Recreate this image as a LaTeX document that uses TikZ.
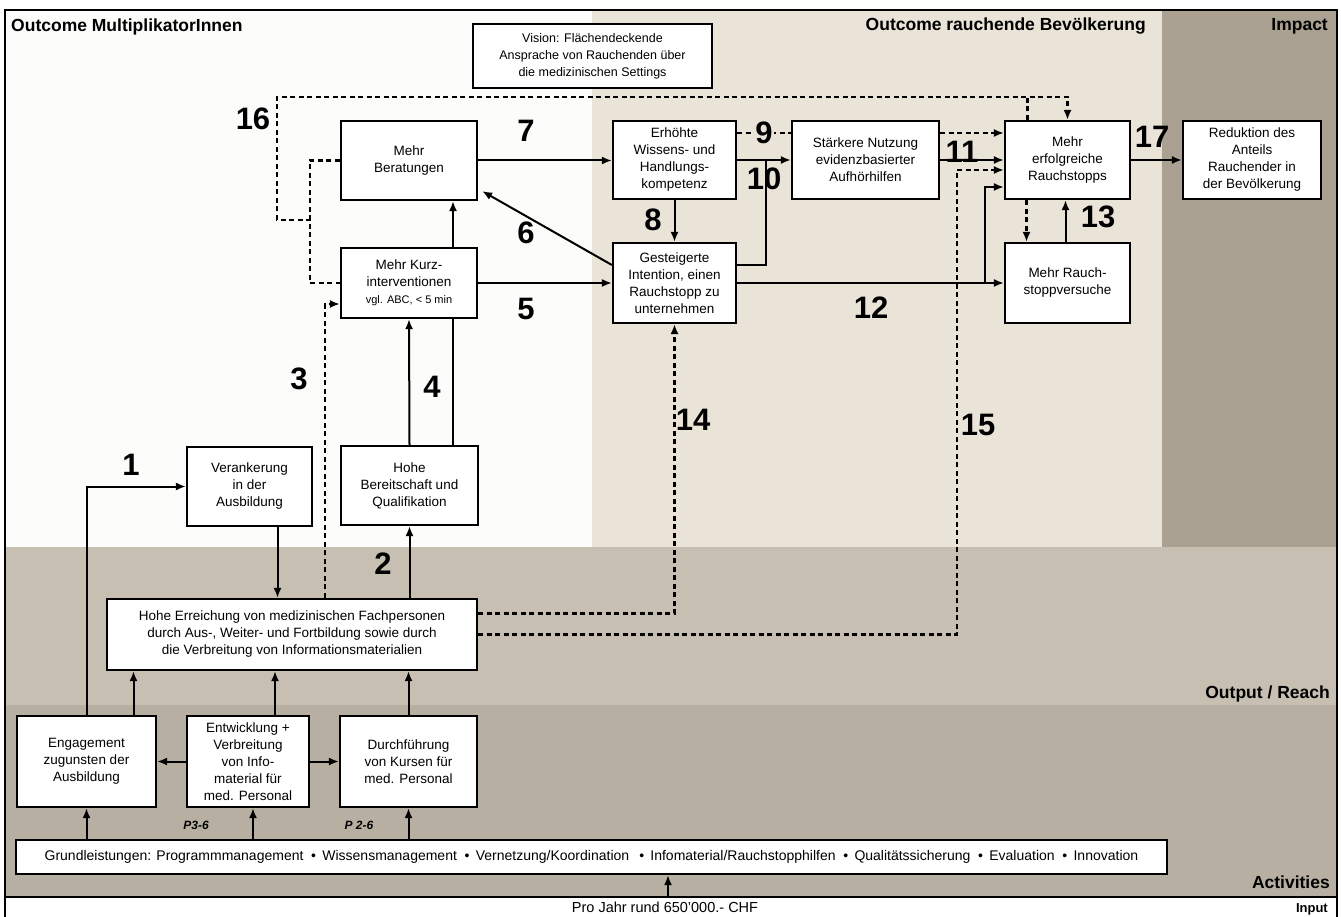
\documentclass[tikz,border=0pt]{standalone}
\usepackage{fontspec}
\setmainfont{Liberation Sans}
\usepackage{tikz}
\usetikzlibrary{arrows,arrows.meta}
\usepackage{xcolor}
\definecolor{bgwhite}{RGB}{252,252,250}
\definecolor{bgbeige}{RGB}{233,227,216}
\definecolor{bgimpact}{RGB}{170,161,146}
\definecolor{bgoutput}{RGB}{198,191,178}
\definecolor{bgactiv}{RGB}{183,176,162}
\tikzstyle{box} = [draw, line width=2.2pt, fill=white, align=center, inner sep=2pt, font=\fontsize{13.5}{17}\selectfont]
\tikzstyle{arrow} = [line width=2pt,->,>={Latex[length=10pt,width=8pt]}]
\tikzstyle{conn} = [line width=2pt]
\tikzstyle{dasharrow} = [line width=2.2pt,->,>={Latex[length=10pt,width=8pt]},dash pattern=on 5pt off 3.5pt]
\tikzstyle{dashline} = [line width=2.2pt,dash pattern=on 5pt off 3.5pt]
\tikzstyle{num} = [font=\fontsize{31}{31}\selectfont\bfseries, inner sep=1pt]
\tikzstyle{head} = [font=\fontsize{17.5}{20}\selectfont\bfseries, inner sep=0pt]
\tikzstyle{plabel} = [font=\fontsize{12}{14}\selectfont\bfseries\itshape, inner sep=1pt]

\begin{document}
\begin{tikzpicture}[x=1pt, y=-1pt]
\useasboundingbox (0,0) rectangle (1341,917);
% Bands of the impact model
\fill[white] (0,0) rectangle (1341,917);
\fill[bgwhite] (6,10) rectangle (592,547);
\fill[bgbeige] (592,10) rectangle (1162,547);
\fill[bgimpact] (1162,10) rectangle (1337,547);
\fill[bgoutput] (6,547) rectangle (1337,705);
\fill[bgactiv] (6,705) rectangle (1337,897);
\draw[line width=1.5pt] (5,917) -- (5,10) -- (1337,10) -- (1337,917);
\draw[line width=2pt] (5,897) -- (1337,897);

\node[head, anchor=base west] (hmulti) at (11,32) {Outcome MultiplikatorInnen};
\node[head, anchor=base east] (hpop) at (1146,31) {Outcome rauchende Bevölkerung};
\node[head, anchor=base east] (himpact) at (1328,31) {Impact};
\node[head, anchor=base east] (houtput) at (1330,698) {Output / Reach};
\node[head, anchor=base east] (hactiv) at (1330,888) {Activities};
\node[font=\fontsize{13}{15}\selectfont\bfseries, inner sep=0pt, anchor=base east] (hinput) at (1328,912) {Input};
\node[font=\fontsize{14.5}{16}\selectfont, inner sep=0pt, anchor=base] (budgettxt) at (665,912) {Pro Jahr rund 650'000.- CHF};

% Outcome boxes
\node[box, font=\fontsize{12.5}{17}\selectfont, minimum width=239, minimum height=64] (vision) at (592.5,56) {Vision: Flächendeckende\\Ansprache von Rauchenden über\\die medizinischen Settings};
\node[box, minimum width=136, minimum height=79] (berat) at (409,160.5) {Mehr\\Beratungen};
\node[box, minimum width=136, minimum height=70] (kurz) at (409,283) {Mehr Kurz-\\interventionen\\{\fontsize{11}{14}\selectfont vgl. ABC, < 5 min}};
\node[box, minimum width=125, minimum height=79] (veran) at (249.5,486.5) {Verankerung\\in der\\Ausbildung};
\node[box, minimum width=137, minimum height=79] (bereit) at (409.5,485.5) {Hohe\\Bereitschaft und\\Qualifikation};
\node[box, minimum width=123, minimum height=78] (erhoeht) at (674.5,160) {Erhöhte\\Wissens- und\\Handlungs-\\kompetenz};
\node[box, minimum width=123, minimum height=80] (gesteig) at (674.5,283) {Gesteigerte\\Intention, einen\\Rauchstopp zu\\unternehmen};
\node[box, minimum width=147, minimum height=78] (staerk) at (865.5,160) {Stärkere Nutzung\\evidenzbasierter\\Aufhörhilfen};
\node[box, minimum width=125, minimum height=78] (erfolg) at (1067.5,160) {Mehr\\erfolgreiche\\Rauchstopps};
\node[box, minimum width=125, minimum height=80] (versuch) at (1067.5,283) {Mehr Rauch-\\stoppversuche};
\node[box, minimum width=138, minimum height=78] (redukt) at (1252,160) {Reduktion des\\Anteils\\Rauchender in\\der Bevölkerung};

% Output and activities
\node[box, minimum width=370, minimum height=71] (erreich) at (292,634.5) {Hohe Erreichung von medizinischen Fachpersonen\\durch Aus-, Weiter- und Fortbildung sowie durch\\die Verbreitung von Informationsmaterialien};
\node[box, minimum width=139, minimum height=91] (engag) at (86.5,761.5) {Engagement\\zugunsten der\\Ausbildung};
\node[box, minimum width=122, minimum height=91] (entw) at (248,761.5) {Entwicklung +\\Verbreitung\\von Info-\\material für\\med. Personal};
\node[box, minimum width=137, minimum height=91] (durch) at (408.5,761.5) {Durchführung\\von Kursen für\\med. Personal};
\node[box, font=\fontsize{14}{16}\selectfont, minimum width=1151, minimum height=34] (grund) at (591.5,857) {Grundleistungen: Programmmanagement \ •\ \,Wissensmanagement \ •\ \,Vernetzung/Koordination \ \,•\ \,Infomaterial/Rauchstopphilfen \ •\ \,Qualitätssicherung \ •\ \,Evaluation \ •\ \,Innovation};
\node[plabel] (p36) at (196,825) {P3-6};
\node[plabel] (p26) at (359,825) {P 2-6};

% Activities to output
\draw[arrow] (grund.north -| engag.south) -- (engag.south);
\draw[arrow] ([xshift=5pt]entw.south |- grund.north) -- ([xshift=5pt]entw.south);
\draw[arrow] (grund.north -| durch.south) -- (durch.south);
\draw[arrow] (entw.west) -- (engag.east);
\draw[arrow] (entw.east) -- (durch.west);
\draw[arrow] ([xshift=47pt]engag.north) -- ([xshift=47pt]engag.north |- erreich.south);
\draw[arrow] ([xshift=27pt]entw.north) -- ([xshift=27pt]entw.north |- erreich.south);
\draw[arrow] (durch.north) -- (durch.north |- erreich.south);
\coordinate (budget) at (668,897);
\draw[arrow] (budget) -- (budget |- grund.south);

% 1 - 5
\draw[arrow] (engag.north) |- (veran.west);
\draw[arrow] ([xshift=28pt]veran.south) -- ([xshift=28pt]veran.south |- erreich.north);
\draw[arrow] (erreich.north -| bereit.south) -- (bereit.south);
\draw[dasharrow] ([xshift=33pt]erreich.north) |- ([yshift=-21pt]kurz.west);
\draw[arrow] (bereit.north) -- (kurz.south);
\draw[conn] ([xshift=43pt]bereit.north) -- ([xshift=43pt]bereit.north |- kurz.south);
\draw[arrow] ([xshift=44pt]kurz.north) -- ([xshift=44pt]kurz.north |- berat.south);
\draw[arrow] (kurz.east) -- (kurz.east -| gesteig.west);

% 6 - 13
\draw[arrow] ([yshift=18pt]gesteig.west) -- ([xshift=4pt,yshift=10pt]berat.south east);
\draw[arrow] (berat.east) -- (berat.east -| erhoeht.west);
\draw[arrow] (erhoeht.south) -- (gesteig.north);
\draw[dashline] ([yshift=27pt]erhoeht.east) -- ([yshift=27pt]erhoeht.east -| staerk.west) node[midway, num, fill=bgbeige] (n9) {9};
\draw[arrow] (erhoeht.east) -- (erhoeht.east -| staerk.west);
\draw[conn] ([yshift=18pt]gesteig.east) -| ([xshift=29pt]erhoeht.east);
\draw[arrow] (staerk.east) -- (staerk.east -| erfolg.west);
\draw[dasharrow] ([yshift=27pt]staerk.east) -- ([yshift=27pt]staerk.east -| erfolg.west);
\draw[arrow] (gesteig.east) -- (gesteig.east -| versuch.west);
\draw[arrow] ([xshift=-19pt]versuch.west) |- ([yshift=-27pt]erfolg.west);
\draw[arrow] ([xshift=-2pt]versuch.north) -- ([xshift=-2pt]erfolg.south);
\draw[dasharrow] ([xshift=-41pt]erfolg.south) -- ([xshift=-41pt]versuch.north);

% 14 - 17
\draw[dasharrow] ([yshift=21pt]erreich.east) -| (gesteig.south);
\draw[dasharrow] (erreich.east) -| ([xshift=-47pt,yshift=-10pt]erfolg.west) -- ([yshift=-10pt]erfolg.west);
\draw[dashline] (berat.west) -- ++(-30,0) |- (kurz.west);
\coordinate (loop) at (311,220);
\draw[dasharrow] (loop) -- ++(-34,0) -- ++(0,-123) -| (erfolg.north);
\draw[dashline] ([xshift=-40pt]erfolg.north) -- ++(0,-24);
\draw[arrow] (erfolg.east) -- (redukt.west);

% Numbers
\node[num] (n1) at (131,465) {1};
\node[num] (n2) at (383,564) {2};
\node[num] (n3) at (299,379) {3};
\node[num] (n4) at (432,387) {4};
\node[num] (n5) at (526,309) {5};
\node[num] (n6) at (526,233) {6};
\node[num] (n7) at (526,131) {7};
\node[num] (n8) at (653,220) {8};
\node[num] (n10) at (764,179) {10};
\node[num] (n11) at (962,152) {11};
\node[num] (n12) at (871,308) {12};
\node[num] (n13) at (1098,217) {13};
\node[num] (n14) at (693,420) {14};
\node[num] (n15) at (978,425) {15};
\node[num] (n16) at (253,119) {16};
\node[num] (n17) at (1152,137) {17};
\end{tikzpicture}
\end{document}
